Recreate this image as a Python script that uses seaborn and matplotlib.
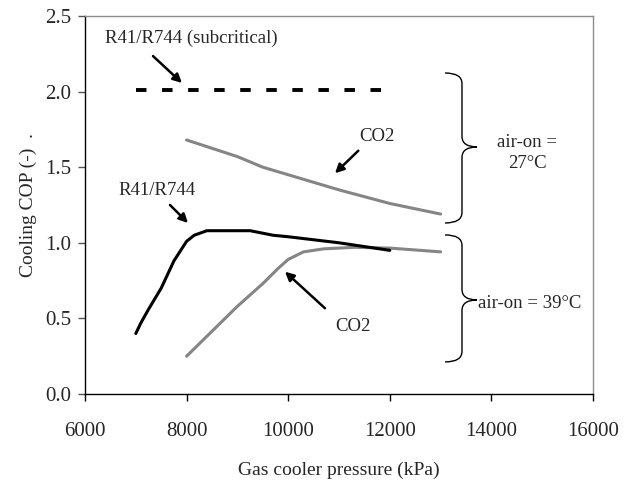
import matplotlib
matplotlib.use("Agg")
import matplotlib.pyplot as plt
import seaborn as sns
from matplotlib.path import Path
from matplotlib.patches import PathPatch

# R41/R744 subcritical reference level (dashed)
sub_x = [7000, 12000]
sub_cop = [2.01, 2.01]

# CO2, air-on 27 C
co2_27_x = [8000, 9000, 9500, 10000, 11000, 12000, 13000]
co2_27_cop = [1.68, 1.57, 1.50, 1.45, 1.35, 1.26, 1.19]

# R41/R744, air-on 39 C
r41_x = [7000, 7100, 7250, 7500, 7750, 8000, 8150, 8400, 9250, 9700, 10000, 11000, 12000]
r41_cop = [0.40, 0.47, 0.56, 0.70, 0.88, 1.01, 1.05, 1.08, 1.08, 1.05, 1.04, 1.00, 0.95]

# CO2, air-on 39 C
co2_39_x = [8000, 9000, 9500, 9800, 10000, 10300, 10700, 11300, 12000, 13000]
co2_39_cop = [0.25, 0.58, 0.73, 0.83, 0.89, 0.94, 0.96, 0.97, 0.965, 0.94]

x_ticks = [6000, 8000, 10000, 12000, 14000, 16000]
y_ticks = [0.0, 0.5, 1.0, 1.5, 2.0, 2.5]

sns.set_style("white")
plt.rcParams['font.family'] = ['Liberation Serif', 'DejaVu Serif']

fig = plt.figure(figsize=(6.32, 4.82), dpi=100)
ax = fig.add_axes([0.1345, 0.1826, 0.8038, 0.7842])

GREY = '#858585'
sns.lineplot(x=sub_x, y=sub_cop, ax=ax, color='black', lw=2.8,
             linestyle=(0, (2.7, 4.0)), sort=False)
sns.lineplot(x=co2_27_x, y=co2_27_cop, ax=ax, color=GREY, lw=2.2, sort=False)
sns.lineplot(x=co2_39_x, y=co2_39_cop, ax=ax, color=GREY, lw=2.2, sort=False)
sns.lineplot(x=r41_x, y=r41_cop, ax=ax, color='black', lw=2.2, sort=False)

ax.set_xlim(6000, 16000)
ax.set_ylim(0, 2.5)
ax.set_xticks(x_ticks)
ax.set_yticks(y_ticks)
ax.set_xticklabels([str(v) for v in x_ticks])
ax.set_yticklabels([f"{v:.1f}" for v in y_ticks])
ax.tick_params(axis='x', direction='out', length=5, width=1, color='black',
               pad=15, labelsize=15, bottom=True)
ax.tick_params(axis='y', direction='out', length=5, width=1, color='#555555',
               pad=5, labelsize=15, left=True)

for side in ['left', 'bottom']:
    ax.spines[side].set_color('black')
    ax.spines[side].set_linewidth(1.0)
for side in ['top', 'right']:
    ax.spines[side].set_color('#8c8c8c')
    ax.spines[side].set_linewidth(1.0)

ax.set_xlabel("Gas cooler pressure (kPa)", fontsize=14, labelpad=15)
ax.set_ylabel("Cooling COP (-)  .", fontsize=14, labelpad=6)

arrow = dict(arrowstyle='-|>', color='black', lw=1.8, mutation_scale=13,
             shrinkA=0, shrinkB=0)
fs = 13.5
ax.text(8087, 2.355, "R41/R744 (subcritical)", ha='center', va='center', fontsize=fs)
ax.annotate("", xy=(7909, 2.057), xytext=(7339, 2.235), arrowprops=arrow)

ax.text(11740, 1.70, "CO2", ha='center', va='center', fontsize=fs)
ax.annotate("", xy=(10921, 1.46), xytext=(11380, 1.609), arrowprops=arrow)

ax.text(7411, 1.349, "R41/R744", ha='center', va='center', fontsize=fs)
ax.annotate("", xy=(8028, 1.131), xytext=(7673, 1.25), arrowprops=arrow)

ax.text(11280, 0.445, "CO2", ha='center', va='center', fontsize=fs)
ax.annotate("", xy=(9937, 0.809), xytext=(10724, 0.567), arrowprops=arrow)


def brace(ax, x0, xm, xt, ytop, ybot, ytip, r=0.07):
    verts = [(x0, ytop), (xm, ytop), (xm, ytop - r),
             (xm, ytip + r), (xm, ytip), (xt, ytip),
             (xm, ytip), (xm, ytip - r),
             (xm, ybot + r), (xm, ybot), (x0, ybot)]
    codes = [Path.MOVETO, Path.CURVE3, Path.CURVE3,
             Path.LINETO, Path.CURVE3, Path.CURVE3,
             Path.CURVE3, Path.CURVE3,
             Path.LINETO, Path.CURVE3, Path.CURVE3]
    ax.add_patch(PathPatch(Path(verts, codes), fill=False, lw=1.0,
                           edgecolor='black'))


brace(ax, 13087, 13421, 13717, 2.123, 1.131, 1.634)
brace(ax, 13087, 13421, 13717, 1.052, 0.212, 0.622)

ax.text(14700, 1.594, "air-on =\n27°C", ha='center', va='center',
        fontsize=fs, linespacing=1.3)
ax.text(13740, 0.60, "air-on = 39°C", ha='left', va='center', fontsize=fs)

fig.savefig("out.png", dpi=100)
